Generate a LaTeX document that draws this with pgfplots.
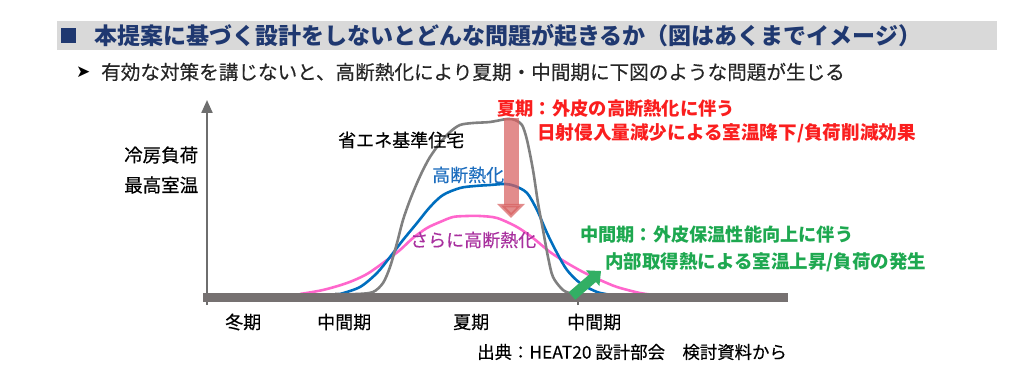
\documentclass[border=0pt]{standalone}
\usepackage{fontspec}
\setmainfont{Noto Sans CJK JP}
\newfontfamily\jpm[FakeBold=0.35]{Noto Sans CJK JP}
\newfontfamily\dejavu{DejaVu Sans}
\usepackage{pgfplots}
\pgfplotsset{compat=1.18}
\usetikzlibrary{arrows.meta}
\definecolor{bandgray}{RGB}{217,217,217}
\definecolor{navy}{RGB}{31,56,112}
\definecolor{subtext}{RGB}{38,38,38}
\definecolor{curvegray}{RGB}{128,128,128}
\definecolor{curveblue}{RGB}{0,110,190}
\definecolor{textblue}{RGB}{30,110,190}
\definecolor{curvepink}{RGB}{255,102,204}
\definecolor{textpurple}{RGB}{168,48,158}
\definecolor{redtext}{RGB}{250,30,30}
\definecolor{greentext}{RGB}{30,168,80}
\definecolor{basegray}{RGB}{118,113,113}
\definecolor{axisgray}{RGB}{110,110,110}
\definecolor{redarrow}{RGB}{215,95,95}
\definecolor{greenarrow}{RGB}{50,175,100}
\begin{document}
\begin{tikzpicture}
\path[use as bounding box] (0,0) rectangle (1024pt,388pt);
\begin{axis}[at={(0,0)}, anchor=south west, width=1024pt, height=388pt,
  scale only axis, xmin=0, xmax=1024, ymin=0, ymax=388, hide axis, clip=false]
% title band
\fill[bandgray] (axis cs:57,338) rectangle (axis cs:997,367);
\fill[navy] (axis cs:61,345) rectangle (axis cs:76,360);
\node[anchor=west, inner sep=0, text=navy, font=\fontsize{23}{27}\selectfont\bfseries] at (axis cs:94,352.5) {本提案に基づく設計をしないとどんな問題が起きるか（図はあくまでイメージ）};
\node[anchor=west, inner sep=0, text=black, font=\fontsize{17}{20}\selectfont\dejavu] at (axis cs:76,316) {➤};
\node[anchor=west, inner sep=0, text=subtext, font=\fontsize{19.6}{23}\selectfont\jpm] at (axis cs:101,316) {有効な対策を講じないと、高断熱化により夏期・中間期に下図のような問題が生じる};
% curves
\addplot[curvepink, line width=2.6pt, smooth] coordinates {
(300,94) (323,98) (347,105) (367,114) (387,128) (400,138) (413,150) (427,160) (440,166)
(453,171) (467,172) (480,172) (497,170) (517,161) (533,150) (550,136) (567,125) (583,116)
(600,108) (617,101) (640,95) (655,93)};
\addplot[curveblue, line width=2.6pt, smooth] coordinates {
(335,94) (340,94) (360,101) (377,115) (390,131) (403,148) (417,165) (430,181) (443,193)
(460,200) (475,202) (490,203) (505,204) (515,202) (527,195) (537,178) (547,155) (557,135)
(567,118) (580,105) (597,96) (612,93)};
\addplot[curvegray, line width=2.6pt, smooth] coordinates {
(335,94) (357,94) (373,96) (383,105) (390,121) (397,145) (403,168) (410,188) (417,205)
(423,218) (430,231) (440,245) (450,256) (460,263) (473,265) (490,266) (507,269) (515,268)
(522,263) (527,248) (533,218) (538,185) (543,158) (548,131) (553,111) (563,98) (573,94) (580,94)};
% axes
\addplot[axisgray, line width=2.2pt, -{Triangle[width=11pt,length=13pt]}] coordinates {(207,83) (207,288)};
\addplot[axisgray, line width=1.5pt] coordinates {(578,83) (578,90)};
\addplot[basegray, line width=9pt] coordinates {(203,90.5) (788,90.5)};
% arrows
\addplot[redarrow, opacity=0.72, line width=15pt, -{Triangle[width=27pt,length=14pt]}] coordinates {(511,270) (511,170)};
\addplot[greenarrow, line width=10pt, -{Triangle[width=20pt,length=11pt]}] coordinates {(572,92) (601,117)};
% labels
\node[anchor=west, inner sep=0, font=\fontsize{18.5}{22}\selectfont\jpm] at (axis cs:124,233) {冷房負荷};
\node[anchor=west, inner sep=0, font=\fontsize{18.5}{22}\selectfont\jpm] at (axis cs:124,203) {最高室温};
\node[anchor=west, inner sep=0, font=\fontsize{18}{22}\selectfont\jpm] at (axis cs:338,248) {省エネ基準住宅};
\node[anchor=west, inner sep=0, text=textblue, font=\fontsize{18}{22}\selectfont\jpm] at (axis cs:432,213) {高断熱化};
\node[anchor=west, inner sep=0, text=textpurple, font=\fontsize{18}{22}\selectfont\jpm] at (axis cs:410,148) {さらに高断熱化};
\node[anchor=west, inner sep=0, text=redtext, font=\fontsize{18.3}{22}\selectfont\bfseries] at (axis cs:497,279) {夏期：外皮の高断熱化に伴う};
\node[anchor=west, inner sep=0, text=redtext, font=\fontsize{18.6}{22}\selectfont\bfseries] at (axis cs:537,255) {日射侵入量減少による室温降下/負荷削減効果};
\node[anchor=west, inner sep=0, text=greentext, font=\fontsize{18.2}{22}\selectfont\bfseries] at (axis cs:580,153) {中間期：外皮保温性能向上に伴う};
\node[anchor=west, inner sep=0, text=greentext, font=\fontsize{18.5}{22}\selectfont\bfseries] at (axis cs:605,126) {内部取得熱による室温上昇/負荷の発生};
\node[anchor=west, inner sep=0, font=\fontsize{18}{22}\selectfont\jpm] at (axis cs:225,66) {冬期};
\node[anchor=west, inner sep=0, font=\fontsize{18}{22}\selectfont\jpm] at (axis cs:317,66) {中間期};
\node[anchor=west, inner sep=0, font=\fontsize{18}{22}\selectfont\jpm] at (axis cs:453,66) {夏期};
\node[anchor=west, inner sep=0, font=\fontsize{18}{22}\selectfont\jpm] at (axis cs:567,66) {中間期};
\node[anchor=west, inner sep=0, font=\fontsize{17.4}{20}\selectfont\jpm] at (axis cs:477,36) {出典：HEAT20 設計部会\quad 検討資料から};
\end{axis}
\end{tikzpicture}
\end{document}
